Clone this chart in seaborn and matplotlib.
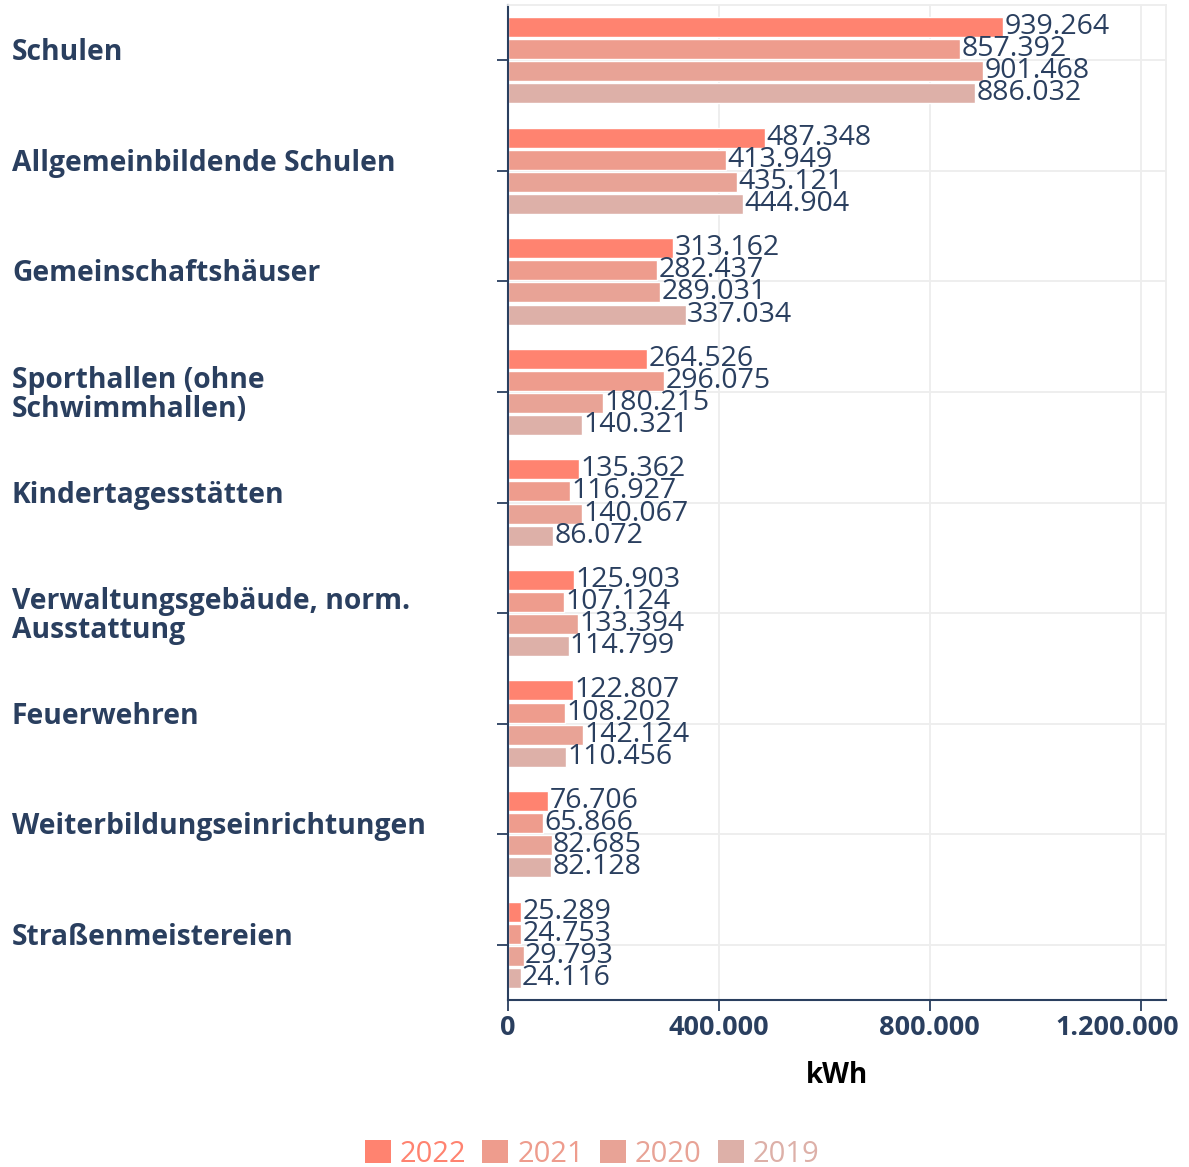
import numpy as np
import pandas as pd
import matplotlib
matplotlib.use("Agg")
import matplotlib.pyplot as plt
import matplotlib.transforms as mtransforms
import seaborn as sns
from matplotlib.patches import Patch

# =========================================================
# DONNÉES
# =========================================================

kategorien = [
    "Schulen",
    "Allgemeinbildende Schulen",
    "Gemeinschaftshäuser",
    "Sporthallen (ohne\nSchwimmhallen)",
    "Kindertagesstätten",
    "Verwaltungsgebäude, norm.\nAusstattung",
    "Feuerwehren",
    "Weiterbildungseinrichtungen",
    "Straßenmeistereien",
]

jahre = ["2022", "2021", "2020", "2019"]

werte_2022 = [939264, 487348, 313162, 264526, 135362, 125903, 122807, 76706, 25289]
werte_2021 = [857392, 413949, 282437, 296075, 116927, 107124, 108202, 65866, 24753]
werte_2020 = [901468, 435121, 289031, 180215, 140067, 133394, 142124, 82685, 29793]
werte_2019 = [886032, 444904, 337034, 140321, 86072, 114799, 110456, 82128, 24116]

farben = ["#FF8370", "#EE9C8D", "#E8A396", "#DDB0A8"]

x_ticks = [0, 400000, 800000, 1200000]

# =========================================================
# TABLEAU LONG
# =========================================================

serien = {"2022": werte_2022, "2021": werte_2021, "2020": werte_2020, "2019": werte_2019}

df = pd.DataFrame(
    [(k, j, serien[j][i]) for j in jahre for i, k in enumerate(kategorien)],
    columns=["Kategorie", "Jahr", "kWh"],
)

# =========================================================
# FIGURE
# =========================================================

sns.set_style("white")
plt.rcParams["font.family"] = ["Open Sans", "DejaVu Sans"]

text_col = "#2A3F5F"

fig = plt.figure(figsize=(11.89, 11.67), dpi=100)
ax = fig.add_axes([508 / 1189, 1 - 1000 / 1167, (1166 - 508) / 1189, (1000 - 5) / 1167])

sns.barplot(
    data=df,
    y="Kategorie",
    x="kWh",
    hue="Jahr",
    hue_order=jahre,
    order=kategorien,
    palette=farben,
    orient="h",
    width=0.8,
    saturation=1,
    legend=False,
    ax=ax,
)

# petits espaces entre les barres
for p in ax.patches:
    h = p.get_height()
    p.set_y(p.get_y() + 0.01)
    p.set_height(h - 0.02)

# étiquettes des valeurs
def de_format(v):
    return f"{v:,.0f}".replace(",", ".")

for cont in ax.containers:
    ax.bar_label(
        cont,
        labels=[de_format(v) for v in cont.datavalues],
        padding=1,
        fontsize=20.5,
        color=text_col,
    )

ax.set_xlim(0, 1248000)
ax.set_ylim(len(kategorien) - 0.5, -0.5)

# le dernier label est dessiné à part, décalé vers la gauche pour rester dans la figure
ax.set_xticks(x_ticks)
ax.set_xticklabels([de_format(v) for v in x_ticks[:-1]] + [""], fontsize=19.5,
                   fontweight="bold", color=text_col)
ax.annotate(
    de_format(x_ticks[-1]),
    xy=(x_ticks[-1], 0),
    xycoords=("data", "axes fraction"),
    xytext=(27.4, -11),
    textcoords="offset points",
    ha="right",
    va="top",
    fontsize=19.5,
    fontweight="bold",
    color=text_col,
)

ax.set_yticks(range(len(kategorien)))
ax.set_yticklabels([])
ax.tick_params(axis="y", length=8, width=1.3, color=text_col, direction="out", left=True)
ax.tick_params(axis="x", length=8, width=1.3, color=text_col, direction="out", bottom=True, pad=3)

# noms des catégories, alignés à gauche de la figure
trans = mtransforms.blended_transform_factory(fig.transFigure, ax.transData)
for i, k in enumerate(kategorien):
    mehrzeilig = "\n" in k
    ax.text(12 / 1189, i + (0.03 if mehrzeilig else 0), k, transform=trans, ha="left",
            va="center" if mehrzeilig else "baseline",
            fontsize=20.3, fontweight="bold", color=text_col, linespacing=1.0)

ax.set_ylabel("")
ax.set_xlabel("kWh", fontsize=20, fontweight="bold", color="black", labelpad=14)

ax.grid(True, color="#EDEDED", linewidth=1.3)
ax.set_axisbelow(True)

for s in ["left", "bottom"]:
    ax.spines[s].set_color(text_col)
    ax.spines[s].set_linewidth(1.5)
for s in ["top", "right"]:
    ax.spines[s].set_color("#EDEDED")
    ax.spines[s].set_linewidth(1.3)

# légende
handles = [Patch(facecolor=c, edgecolor="none", label=j) for c, j in zip(farben, jahre)]
fig.legend(
    handles=handles,
    loc="center",
    bbox_to_anchor=(592 / 1189, 1 - 1154 / 1167),
    ncol=4,
    frameon=False,
    fontsize=21,
    labelcolor=farben,
    handlelength=0.9,
    handleheight=0.8,
    handletextpad=0.3,
    columnspacing=0.55,
)

plt.savefig("out.png", dpi=100)
